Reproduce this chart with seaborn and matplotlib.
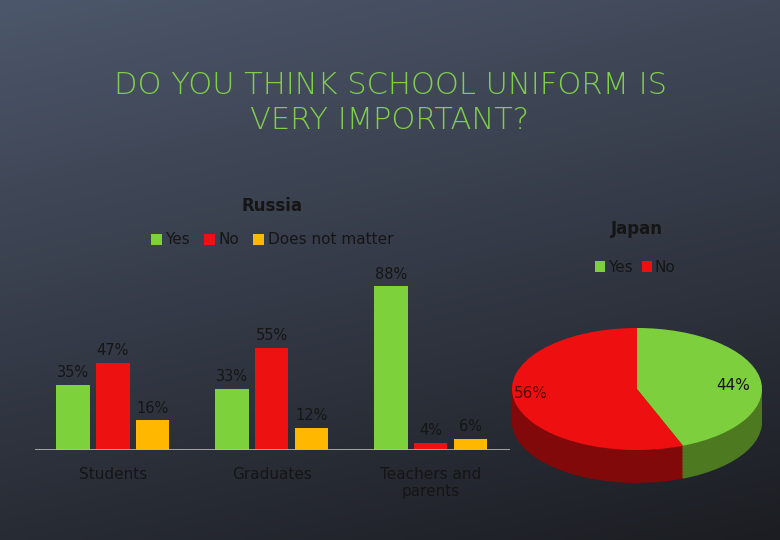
import matplotlib
matplotlib.use("Agg")
import matplotlib.pyplot as plt
import seaborn as sns
import numpy as np
import pandas as pd

# --- DATOS ---
groups = ["Students", "Graduates", "Teachers and\nparents"]
answers = ["Yes", "No", "Does not matter"]
yes_vals = [35, 33, 88]
no_vals = [47, 55, 4]
nomatter_vals = [16, 12, 6]

japan_labels = ["Yes", "No"]
japan_vals = [44, 56]

bar_colors = ["#7dd13b", "#ee1111", "#ffb700"]
pie_colors = ["#7dcf3d", "#ee1010"]
pie_side_colors = ["#4d7a20", "#820909"]
text_dark = "#151515"

sns.set_theme(style="white")
plt.rcParams["font.family"] = ["DejaVu Sans"]

df = pd.DataFrame({
    "group": groups * 3,
    "answer": [a for a in answers for _ in groups],
    "value": yes_vals + no_vals + nomatter_vals,
})

fig = plt.figure(figsize=(7.8, 5.4), dpi=100)
W, H = 780, 540

# fondo degradado oscuro
bg = fig.add_axes([0, 0, 1, 1], zorder=-10)
yy, xx = np.mgrid[0:1:200j, 0:1:200j]
grad = 0.75 * yy + 0.25 * xx
top = np.array([0x4d, 0x57, 0x6b]) / 255
bot = np.array([0x1b, 0x1d, 0x22]) / 255
img = top[None, None, :] * (1 - grad[..., None]) + bot[None, None, :] * grad[..., None]
bg.imshow(img, aspect="auto", extent=[0, 1, 0, 1], origin="upper")
bg.axis("off")

# titulo
fig.text(0.5, 1 - 103 / H, "DO YOU THINK SCHOOL UNIFORM IS\nVERY IMPORTANT?",
         ha="center", va="center", color="#80cf4a", fontsize=22,
         fontweight="light", linespacing=1.25)

# --- Russia: barras ---
ax = fig.add_axes([35 / W, 90 / H, 475 / W, 186 / H])
ax.patch.set_alpha(0)
sns.barplot(data=df, x="group", y="value", hue="answer", hue_order=answers,
            palette=bar_colors, width=0.75, gap=0.16, saturation=1,
            errorbar=None, ax=ax, legend=True, linewidth=0)
ax.set_xlim(-0.49, 2.5)
ax.set_ylim(0, 100)
ax.axhline(0, color="#b8b8b8", lw=1.2)
for s in ax.spines.values():
    s.set_visible(False)
ax.set_yticks([])
ax.set_xlabel("")
ax.set_ylabel("")
ax.tick_params(axis="x", length=0, pad=12, labelsize=11, colors=text_dark)

for bar in ax.patches:
    h = bar.get_height()
    if h > 0:
        ax.text(bar.get_x() + bar.get_width() / 2, h + 2.5, f"{h:.0f}%",
                ha="center", va="bottom", fontsize=10.5, color=text_dark)

leg = ax.legend(loc="center", bbox_to_anchor=(272 / W, 1 - 240 / H),
                bbox_transform=fig.transFigure, ncol=3, frameon=False,
                handlelength=0.7, handleheight=0.7, handletextpad=0.25,
                columnspacing=0.9, fontsize=11)
for h in leg.legend_handles:
    h.set_linewidth(0)
for t in leg.get_texts():
    t.set_color(text_dark)
fig.text(272 / W, 1 - 206 / H, "Russia", ha="center", va="center",
         fontsize=12, fontweight="bold", color=text_dark)

# --- Japan: pastel con efecto 3D ---
pax = fig.add_axes([500 / W, 50 / H, 275 / W, 170 / H])
pax.patch.set_alpha(0)
depth = 0.54
for off in np.linspace(-depth, 0, 24)[:-1]:
    pax.pie(japan_vals, colors=pie_side_colors, startangle=90, counterclock=False,
            center=(0, off), radius=1, wedgeprops=dict(linewidth=0))
wedges, _ = pax.pie(japan_vals, colors=pie_colors, startangle=90, counterclock=False,
                    center=(0, 0), radius=1, wedgeprops=dict(linewidth=0))
pax.set_aspect("auto")
pax.set_xlim(-1.096, 1.104)
pax.set_ylim(-1.656, 1.131)
pax.axis("off")
pax.text(0.77, 0.05, f"{japan_vals[0]}%", ha="center", va="center",
         fontsize=11, color=text_dark)
pax.text(-0.85, -0.07, f"{japan_vals[1]}%", ha="center", va="center",
         fontsize=11, color="#5a0606")

pleg = pax.legend(wedges, japan_labels, loc="center",
                  bbox_to_anchor=(635 / W, 1 - 267 / H),
                  bbox_transform=fig.transFigure, ncol=2, frameon=False,
                  handlelength=0.7, handleheight=0.7, handletextpad=0.15,
                  columnspacing=0.6, fontsize=11)
for t in pleg.get_texts():
    t.set_color(text_dark)
fig.text(637 / W, 1 - 229 / H, "Japan", ha="center", va="center",
         fontsize=12, fontweight="bold", color=text_dark)

plt.savefig("out.png", dpi=100)
